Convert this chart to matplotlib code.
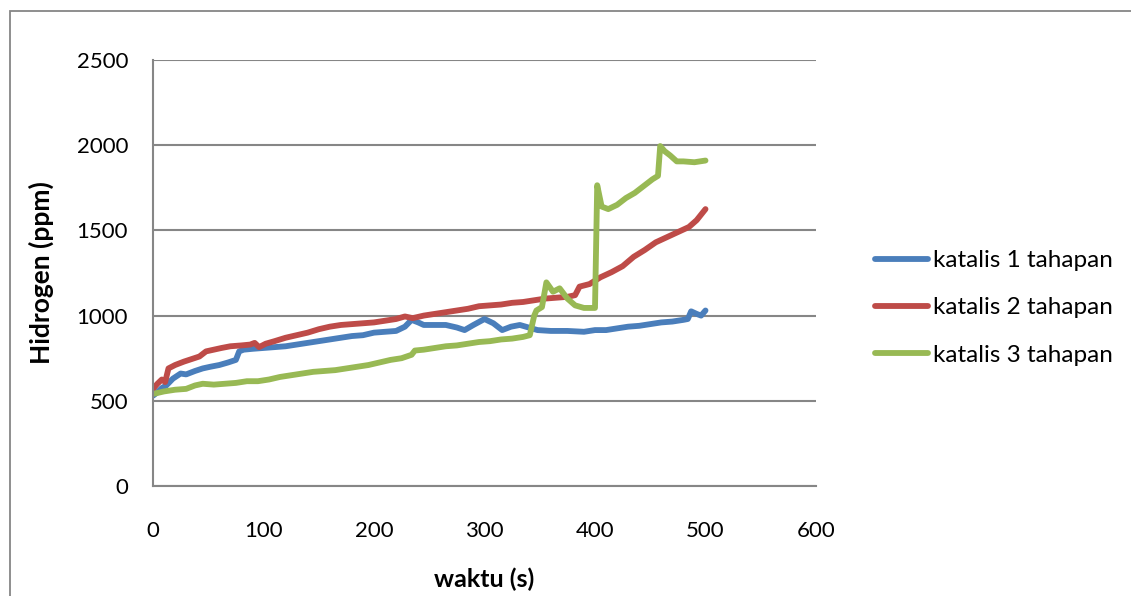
import matplotlib
matplotlib.use("Agg")
import matplotlib.pyplot as plt
from matplotlib.patches import Rectangle

plt.rcParams['font.family'] = ['Lato', 'DejaVu Sans']

# katalis 1 tahapan
t1 = [0, 3, 8, 12, 18, 25, 30, 38, 45, 52, 60, 68, 75, 78, 82, 90, 100, 110, 120,
      130, 140, 150, 160, 170, 180, 190, 200, 210, 220, 228, 234, 240, 245, 255,
      265, 275, 282, 290, 300, 308, 316, 324, 332, 340, 348, 360, 375, 390, 400,
      410, 420, 430, 440, 450, 460, 470, 480, 484, 487, 492, 496, 500]
h1 = [530, 545, 575, 590, 630, 660, 655, 675, 690, 700, 710, 725, 740, 790, 800,
      805, 810, 815, 820, 830, 840, 850, 860, 870, 880, 885, 900, 905, 910, 935,
      975, 960, 945, 945, 945, 930, 915, 945, 980, 955, 915, 935, 945, 930, 915,
      910, 910, 905, 915, 915, 925, 935, 940, 950, 960, 965, 975, 980, 1025,
      1010, 1000, 1030]

# katalis 2 tahapan
t2 = [0, 4, 8, 11, 14, 20, 28, 35, 42, 48, 55, 62, 70, 80, 88, 92, 96, 102, 110,
      120, 130, 140, 150, 160, 170, 180, 190, 200, 210, 220, 228, 235, 245, 255,
      265, 275, 285, 295, 305, 315, 325, 335, 345, 355, 365, 375, 382, 386, 395,
      405, 415, 425, 435, 445, 455, 465, 475, 485, 492, 500]
h2 = [570, 600, 625, 610, 690, 710, 730, 745, 760, 790, 800, 810, 820, 825, 830,
      840, 815, 835, 850, 870, 885, 900, 920, 935, 945, 950, 955, 960, 970, 980,
      995, 985, 1000, 1010, 1020, 1030, 1040, 1055, 1060, 1065, 1075, 1080, 1090,
      1100, 1105, 1110, 1120, 1170, 1185, 1225, 1255, 1290, 1345, 1385, 1430,
      1460, 1490, 1520, 1560, 1625]

# katalis 3 tahapan
t3 = [0, 10, 20, 30, 38, 45, 55, 65, 75, 85, 95, 105, 115, 125, 135, 145, 155,
      165, 175, 185, 195, 205, 215, 225, 234, 237, 245, 255, 265, 275, 285, 295,
      305, 315, 325, 335, 341, 345, 347, 352, 356, 362, 368, 375, 382, 390, 398,
      400, 402, 406, 412, 420, 428, 436, 444, 452, 457, 459, 463, 468, 474, 480,
      490, 500]
h3 = [540, 555, 565, 570, 590, 600, 595, 600, 605, 615, 615, 625, 640, 650, 660,
      670, 675, 680, 690, 700, 710, 725, 740, 750, 770, 795, 800, 810, 820, 825,
      835, 845, 850, 860, 865, 875, 885, 1000, 1030, 1050, 1195, 1140, 1160, 1100,
      1060, 1045, 1045, 1045, 1765, 1640, 1625, 1650, 1690, 1720, 1760, 1800,
      1820, 1995, 1965, 1940, 1905, 1905, 1900, 1910]

series = [
    ("katalis 1 tahapan", t1, h1, "#4A7EBB"),
    ("katalis 2 tahapan", t2, h2, "#BE4B48"),
    ("katalis 3 tahapan", t3, h3, "#98B954"),
]

x_ticks = [0, 100, 200, 300, 400, 500, 600]
y_ticks = [0, 500, 1000, 1500, 2000, 2500]

W, H = 1131, 596
fig = plt.figure(figsize=(W / 100, H / 100), dpi=100)
fig.patch.set_facecolor("white")

# chart area frame
fig.patches.append(Rectangle((10 / W, -0.01), 1.2, 1 - 11 / H + 0.01,
                             transform=fig.transFigure, fill=False,
                             edgecolor="#868686", linewidth=1.3))

ax = fig.add_axes([153 / W, 1 - 486 / H, (816 - 153) / W, (486 - 60) / H])
for label, t, h, c in series:
    ax.plot(t, h, color=c, linewidth=4.2, label=label,
            solid_capstyle="round", solid_joinstyle="round")

ax.set_xlim(0, 600)
ax.set_ylim(0, 2500)
ax.set_xticks(x_ticks)
ax.set_yticks(y_ticks)
ax.tick_params(length=0, labelsize=16, labelcolor="black")
ax.tick_params(axis="x", pad=25)
ax.tick_params(axis="y", pad=18)
ax.yaxis.grid(True, color="#868686", linewidth=1.5)
ax.set_axisbelow(True)
for s in ["top", "right"]:
    ax.spines[s].set_visible(False)
for s in ["left", "bottom"]:
    ax.spines[s].set_color("#868686")
    ax.spines[s].set_linewidth(1.5)

ax.set_xlabel("waktu (s)", fontsize=18, fontweight="bold", labelpad=19)
ax.set_ylabel("Hidrogen (ppm)", fontsize=19, fontweight="bold", labelpad=16)

leg = ax.legend(loc="center left", bbox_to_anchor=(1.056, 0.418), frameon=False,
                fontsize=17.5, handlelength=2.2, handletextpad=0.2,
                labelspacing=1.08)
for line in leg.get_lines():
    line.set_linewidth(4.2)

fig.savefig("out.png", dpi=100)
